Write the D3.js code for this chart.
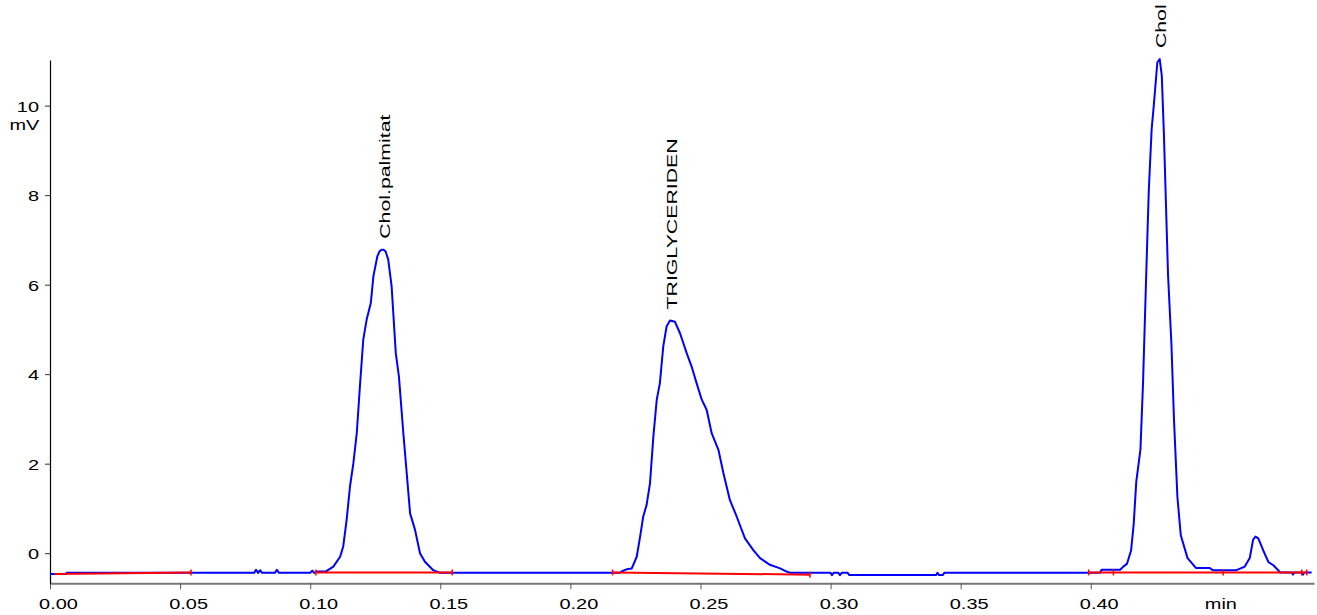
<!DOCTYPE html>
<html>
<head>
<meta charset="utf-8">
<script src="https://cdn.jsdelivr.net/npm/d3@7"></script>
<style>
  html, body { margin: 0; padding: 0; background: #fff; }
  svg { display: block; }
  text { font-family: "Liberation Sans", Arial, Helvetica, sans-serif; font-size: 15px; fill: #000; }
</style>
</head>
<body>
<svg id="chart" width="1317" height="615"></svg>
<script>
// ---------------- data ----------------
// detector trace: retention time (min), signal (mV)
const traceTime = [
  0.0000, 0.0062, 0.0064, 0.0785, 0.0792, 0.0800, 0.0808, 0.0815, 0.0865, 0.0872, 0.0880,
  0.1000, 0.1008, 0.1015, 0.1025, 0.1060,
  0.1068, 0.1089, 0.1115, 0.1127, 0.1140, 0.1153, 0.1166, 0.1179, 0.1191, 0.1204, 0.1217,
  0.1233, 0.1243, 0.1258, 0.1266, 0.1274, 0.1282, 0.1290, 0.1300, 0.1313, 0.1329, 0.1341,
  0.1358, 0.1384, 0.1403, 0.1422, 0.1441, 0.1473, 0.1499,
  0.2190, 0.2197, 0.2216, 0.2236, 0.2255, 0.2268, 0.2280, 0.2293, 0.2306, 0.2319, 0.2332,
  0.2344, 0.2357, 0.2370, 0.2383, 0.2402, 0.2421, 0.2447, 0.2466, 0.2485, 0.2505, 0.2524,
  0.2543, 0.2569, 0.2588, 0.2613, 0.2639, 0.2671, 0.2703, 0.2729, 0.2767, 0.2806, 0.2831, 0.2845,
  0.3000, 0.3005, 0.3012, 0.3030, 0.3036, 0.3043, 0.3066, 0.3072,
  0.3405, 0.3411, 0.3417, 0.3431, 0.3437,
  0.4035, 0.4042, 0.4113,
  0.4125, 0.4139, 0.4155, 0.4165, 0.4175, 0.4191, 0.4201, 0.4214, 0.4223, 0.4234, 0.4242,
  0.4256, 0.4265, 0.4273, 0.4281, 0.4297, 0.4310, 0.4320, 0.4333, 0.4346, 0.4372, 0.4404,
  0.4456, 0.4469, 0.4560, 0.4592, 0.4611, 0.4624, 0.4633, 0.4644, 0.4663, 0.4683, 0.4702, 0.4728,
  0.4773, 0.4777, 0.4781, 0.4812, 0.4816, 0.4820, 0.4849
];
const traceSignal = [
  -0.465, -0.465, -0.44, -0.44, -0.37, -0.44, -0.38, -0.44, -0.44, -0.37, -0.44,
  -0.44, -0.39, -0.44, -0.41, -0.41,
  -0.38, -0.30, -0.08, 0.15, 0.74, 1.49, 2.01, 2.68, 3.72, 4.77, 5.22,
  5.59, 6.19, 6.63, 6.74, 6.78, 6.78, 6.74, 6.56, 5.96, 4.47, 3.95,
  2.68, 0.89, 0.52, 0.00, -0.19, -0.38, -0.44,
  -0.44, -0.41, -0.36, -0.34, -0.08, 0.37, 0.82, 1.08, 1.56, 2.61, 3.43,
  3.80, 4.62, 5.07, 5.20, 5.17, 4.92, 4.47, 4.17, 3.80, 3.43, 3.20,
  2.68, 2.31, 1.79, 1.19, 0.82, 0.33, 0.07, -0.11, -0.26, -0.34, -0.41, -0.44,
  -0.44, -0.49, -0.44, -0.44, -0.49, -0.44, -0.44, -0.49,
  -0.49, -0.44, -0.49, -0.49, -0.44,
  -0.44, -0.37, -0.37,
  -0.30, -0.24, 0.06, 0.65, 1.60, 2.32, 3.82, 6.39, 8.10, 9.47, 9.99,
  10.97, 11.04, 10.67, 9.39, 6.22, 4.68, 2.97, 1.26, 0.40, -0.11, -0.33,
  -0.33, -0.38, -0.38, -0.30, -0.11, 0.30, 0.37, 0.33, 0.06, -0.20, -0.27, -0.43,
  -0.43, -0.48, -0.43, -0.43, -0.48, -0.43, -0.43
];

// integration baselines (start/end time and level)
const baseStartTime = [0.0017, 0.1022, 0.2162, 0.3992];
const baseEndTime   = [0.0542, 0.1546, 0.2921, 0.4830];
const baseStartVal  = [-0.465, -0.43, -0.43, -0.43];
const baseEndVal    = [-0.43, -0.43, -0.48, -0.43];
// peak start/stop markers on the baselines
const markerTime = [0.0542, 0.1022, 0.1546, 0.2162, 0.2921, 0.3992, 0.4087, 0.4509, 0.4811, 0.4830];

// peak names and retention times
const peakNames = ["Chol.palmitat", "TRIGLYCERIDEN", "Chol"];
const peakTimes = [0.1280, 0.2383, 0.4265];

// axes
const xTicks = [0.00, 0.05, 0.10, 0.15, 0.20, 0.25, 0.30, 0.35, 0.40];
const yTicks = [0, 2, 4, 6, 8, 10];
const xUnit = "min", xUnitAt = 0.45;
const yUnit = "mV";
const xDomain = [0, 0.4858];
const yDomain = [-0.673, 11.02];

// ---------------- drawing ----------------
(function draw() {
  const svg = d3.select("#chart");
  const pLeft = 50, pRight = 1314, pTop = 60, pBottom = 583.3;
  const stretch = 1.33;
  const labelStretch = 1.42;

  const x = d3.scaleLinear().domain(xDomain).range([pLeft, pRight]);
  const y = d3.scaleLinear().domain(yDomain).range([pBottom, pTop]);

  // x axis
  const gx = svg.append("g").attr("transform", `translate(0,${pBottom})`)
    .call(d3.axisBottom(x).tickValues(xTicks).tickFormat(d3.format(".2f")).tickSize(6).tickSizeOuter(0));
  gx.select(".domain").attr("stroke", "#777").attr("stroke-width", 2);
  gx.selectAll(".tick line").attr("stroke", "#555").attr("stroke-width", 1);
  gx.selectAll(".tick text")
    .attr("y", 0).attr("dy", null)
    .attr("transform", `translate(8,25.7) scale(${stretch},1)`)
    .attr("font-size", 15).attr("font-family", null).attr("fill", "#000");

  svg.append("text")
    .attr("text-anchor", "middle")
    .attr("transform", `translate(${x(xUnitAt)},609) scale(${stretch},1)`)
    .text(xUnit);

  // y axis
  const gy = svg.append("g").attr("transform", `translate(${pLeft},0)`)
    .call(d3.axisLeft(y).tickValues(yTicks).tickFormat(d3.format("d")).tickSize(5).tickSizeOuter(0));
  gy.select(".domain").attr("stroke", "#000").attr("stroke-width", 1.2);
  gy.selectAll(".tick line").attr("stroke", "#333");
  gy.selectAll(".tick text")
    .attr("x", 0).attr("dy", "0.38em")
    .attr("transform", `translate(-11,0) scale(${stretch},1)`)
    .attr("font-size", 15).attr("font-family", null).attr("fill", "#000");

  svg.append("text")
    .attr("text-anchor", "end")
    .attr("transform", `translate(39.3,130) scale(${stretch},1)`)
    .text(yUnit);

  // trace
  const trace = traceTime.map((t, i) => [t, traceSignal[i]]);
  svg.append("path")
    .datum(trace)
    .attr("fill", "none")
    .attr("stroke", "#0000ff")
    .attr("stroke-width", 2)
    .attr("stroke-linejoin", "round")
    .attr("d", d3.line().x(d => x(d[0])).y(d => y(d[1])));

  // baselines
  const bases = baseStartTime.map((t, i) => ({t0: t, v0: baseStartVal[i], t1: baseEndTime[i], v1: baseEndVal[i]}));
  svg.append("g").selectAll("line").data(bases).join("line")
    .attr("x1", d => x(d.t0)).attr("y1", d => y(d.v0))
    .attr("x2", d => x(d.t1)).attr("y2", d => y(d.v1))
    .attr("stroke", "#ff0000").attr("stroke-width", 2);

  function baseValueAt(t) {
    for (const b of bases) {
      if (t >= b.t0 - 1e-6 && t <= b.t1 + 1e-6) return b.v0 + (b.v1 - b.v0) * (t - b.t0) / (b.t1 - b.t0);
    }
    return -0.43;
  }
  svg.append("g").selectAll("line").data(markerTime).join("line")
    .attr("x1", d => x(d)).attr("x2", d => x(d))
    .attr("y1", d => y(baseValueAt(d)) - 3).attr("y2", d => y(baseValueAt(d)) + 3)
    .attr("stroke", "#ff0000").attr("stroke-width", 1.5);

  // peak labels at apex
  peakNames.forEach((name, i) => {
    const near = trace.filter(d => Math.abs(d[0] - peakTimes[i]) < 0.01);
    const apex = near.reduce((a, b) => (b[1] > a[1] ? b : a));
    const px = x(peakTimes[i]) + 6.5;
    const py = y(apex[1]) - 11;
    svg.append("text")
      .attr("text-anchor", "start")
      .attr("transform", `translate(${px},${py}) rotate(-90) scale(${labelStretch},1)`)
      .text(name);
  });
})();
</script>
</body>
</html>
